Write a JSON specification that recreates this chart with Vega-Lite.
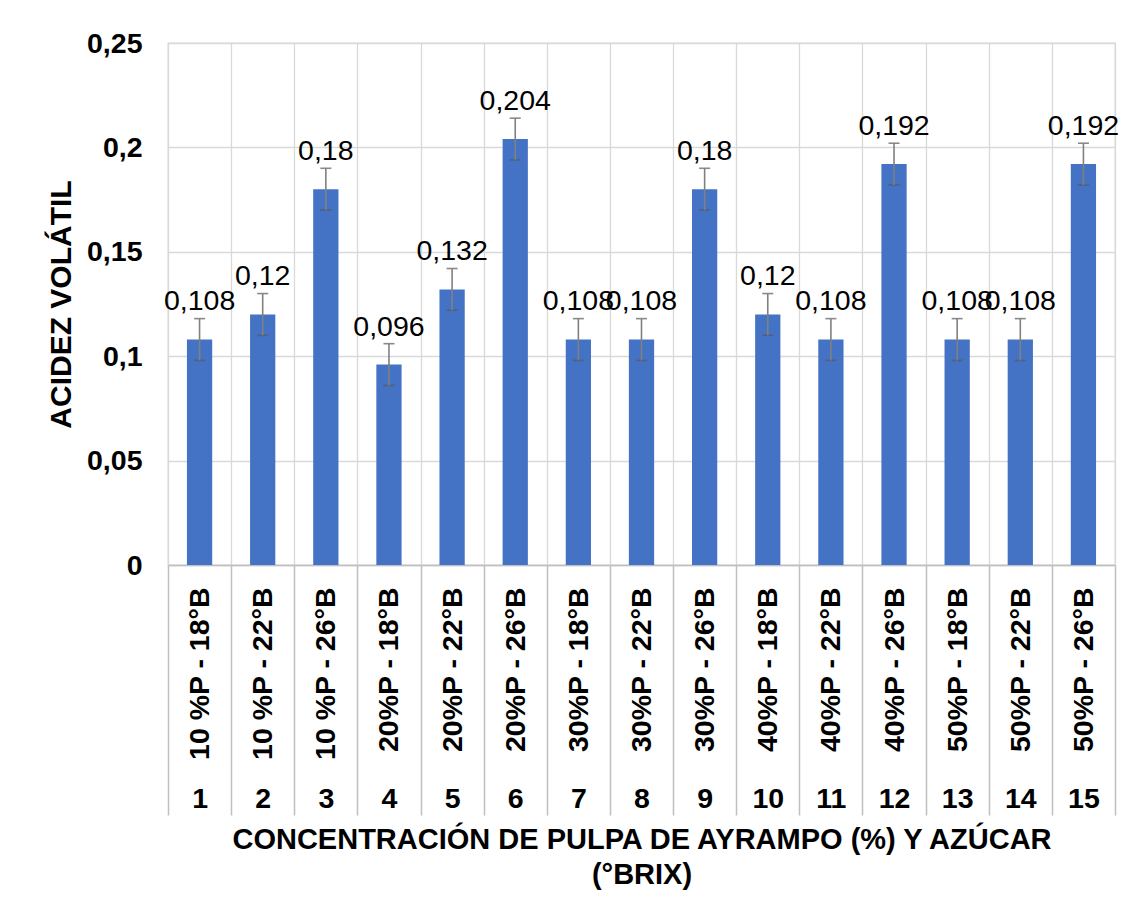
{
  "$schema": "https://vega.github.io/schema/vega-lite/v6.json",
  "width": 947,
  "height": 522,
  "autosize": {"type": "none"},
  "padding": {"left": 168, "top": 43, "right": 19, "bottom": 347},
  "background": "white",
  "config": {
    "font": "Liberation Sans",
    "view": {"stroke": "#d9d9d9", "strokeWidth": 1.3},
    "locale": {"number": {"decimal": ",", "thousands": ".", "grouping": [3], "currency": ["", " €"]}}
  },
  "data": {
    "values": [
      {"n": 1, "name": "10 %P - 18°B", "value": 0.108, "err": 0.01},
      {"n": 2, "name": "10 %P - 22°B", "value": 0.12, "err": 0.01},
      {"n": 3, "name": "10 %P - 26°B", "value": 0.18, "err": 0.01},
      {"n": 4, "name": "20%P - 18°B", "value": 0.096, "err": 0.01},
      {"n": 5, "name": "20%P - 22°B", "value": 0.132, "err": 0.01},
      {"n": 6, "name": "20%P - 26°B", "value": 0.204, "err": 0.01},
      {"n": 7, "name": "30%P - 18°B", "value": 0.108, "err": 0.01},
      {"n": 8, "name": "30%P - 22°B", "value": 0.108, "err": 0.01},
      {"n": 9, "name": "30%P - 26°B", "value": 0.18, "err": 0.01},
      {"n": 10, "name": "40%P - 18°B", "value": 0.12, "err": 0.01},
      {"n": 11, "name": "40%P - 22°B", "value": 0.108, "err": 0.01},
      {"n": 12, "name": "40%P - 26°B", "value": 0.192, "err": 0.01},
      {"n": 13, "name": "50%P - 18°B", "value": 0.108, "err": 0.01},
      {"n": 14, "name": "50%P - 22°B", "value": 0.108, "err": 0.01},
      {"n": 15, "name": "50%P - 26°B", "value": 0.192, "err": 0.01}
    ]
  },
  "resolve": {"scale": {"x": "independent"}, "axis": {"x": "independent"}},
  "layer": [
    {
      "mark": {"type": "bar", "color": "#4472C4", "width": {"band": 0.4}},
      "encoding": {
        "x": {
          "field": "name", "type": "nominal", "sort": null,
          "scale": {"type": "band", "paddingInner": 0, "paddingOuter": 0},
          "axis": {
            "orient": "bottom", "title": null, "ticks": false, "domain": false,
            "grid": true, "gridColor": "#d9d9d9", "gridWidth": 1.3, "tickBand": "extent",
            "labelAngle": 270, "labelAlign": "right", "labelBaseline": "middle",
            "labelPadding": 22, "labelFontSize": 28.5, "labelFontWeight": "bold",
            "labelColor": "#000000", "labelLimit": 400, "labelOverlap": false, "labelFlush": false
          }
        },
        "y": {
          "field": "value", "type": "quantitative", "title": "ACIDEZ VOLÁTIL",
          "scale": {"domain": [0, 0.25], "nice": false},
          "axis": {
            "values": [0, 0.05, 0.1, 0.15, 0.2, 0.25], "format": ".2~f",
            "ticks": false, "domain": false, "grid": true, "gridColor": "#d9d9d9", "gridWidth": 1.3,
            "labelFontSize": 28.5, "labelFontWeight": "bold", "labelColor": "#000000", "labelPadding": 26,
            "titleFontSize": 30, "titleFontWeight": "bold", "titleColor": "#000000", "titlePadding": 10
          }
        }
      }
    },
    {
      "mark": {
        "type": "errorbar",
        "ticks": {"size": 11, "thickness": 1.6, "color": "#595959"},
        "rule": {"color": "#808080", "strokeWidth": 1.6}
      },
      "encoding": {
        "x": {
          "field": "n", "type": "ordinal", "sort": null,
          "scale": {"type": "band", "paddingInner": 0, "paddingOuter": 0},
          "axis": {
            "orient": "bottom", "grid": false, "domain": true, "domainColor": "#bfbfbf", "domainWidth": 1.5,
            "ticks": true, "tickSize": 250, "tickColor": "#bfbfbf", "tickWidth": 1.5, "tickBand": "extent",
            "labelAngle": 0, "labelPadding": -17, "labelBaseline": "middle", "labelAlign": "center",
            "labelFontSize": 28.5, "labelFontWeight": "bold", "labelColor": "#000000",
            "title": ["CONCENTRACIÓN DE PULPA DE AYRAMPO (%) Y AZÚCAR", "(°BRIX)"],
            "titleFontSize": 29, "titleFontWeight": "bold", "titleColor": "#000000",
            "titleLineHeight": 35, "titlePadding": 60
          }
        },
        "y": {"field": "value", "type": "quantitative", "title": "ACIDEZ VOLÁTIL"},
        "yError": {"field": "err"}
      }
    },
    {
      "mark": {"type": "text", "baseline": "alphabetic", "dy": -29, "fontSize": 28.5, "color": "#000000"},
      "encoding": {
        "x": {
          "field": "name", "type": "nominal", "sort": null,
          "scale": {"type": "band", "paddingInner": 0, "paddingOuter": 0},
          "axis": null
        },
        "y": {"field": "value", "type": "quantitative", "title": "ACIDEZ VOLÁTIL"},
        "text": {"field": "value", "type": "quantitative", "format": ".3~f"}
      }
    }
  ]
}
